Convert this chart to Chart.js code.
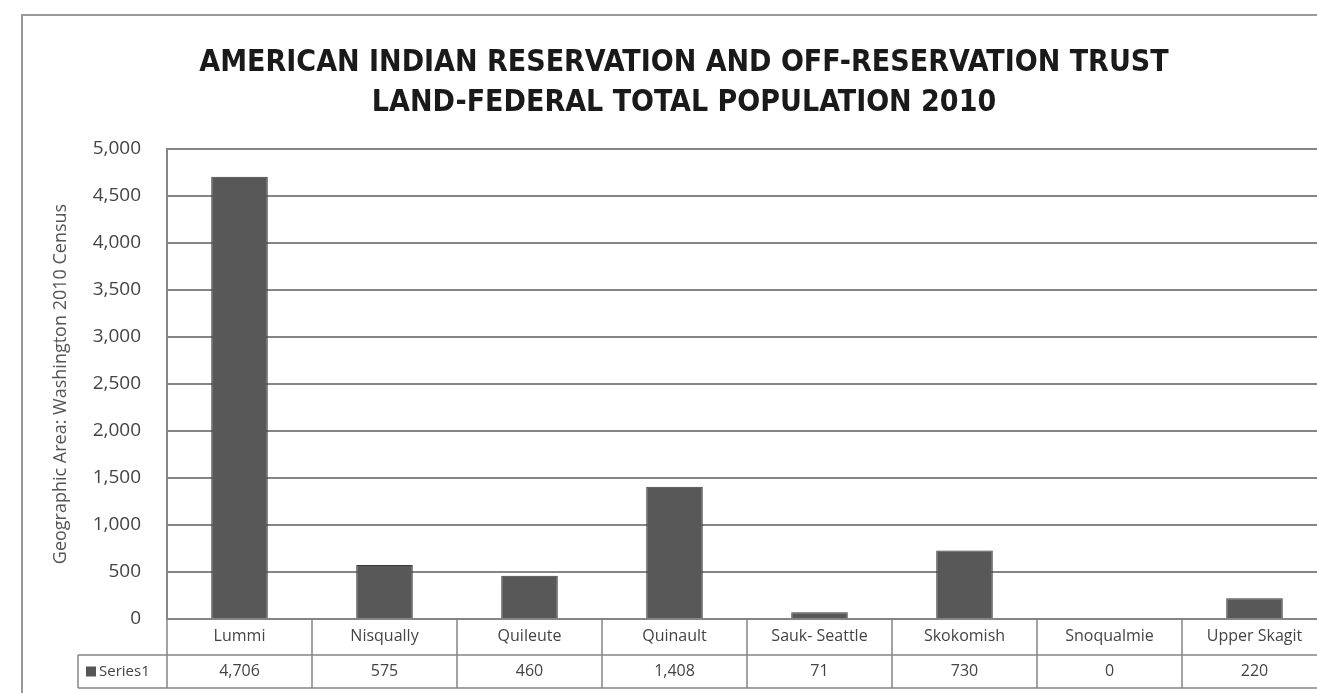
<!DOCTYPE html>
<html>
<head>
<meta charset="utf-8">
<script src="https://cdn.jsdelivr.net/npm/chart.js@4.4.1/dist/chart.umd.min.js"></script>
<style>
  html, body { margin: 0; padding: 0; background: #fff; overflow: hidden; }
  #wrap { position: absolute; left: 0; top: 0; width: 1345px; height: 693px; }
</style>
</head>
<body>
<div id="wrap"><canvas id="popChart" width="1345" height="693"></canvas></div>
<script>
// reservations and their 2010 population
const reservations = ["Lummi", "Nisqually", "Quileute", "Quinault", "Sauk- Seattle", "Skokomish", "Snoqualmie", "Upper Skagit"];
const population = [4706, 575, 460, 1408, 71, 730, 0, 220];
const seriesName = "Series1";
const yTicks = [0, 500, 1000, 1500, 2000, 2500, 3000, 3500, 4000, 4500, 5000];
const titleLines = ["AMERICAN INDIAN RESERVATION AND OFF-RESERVATION TRUST", "LAND-FEDERAL TOTAL POPULATION 2010"];

const textFont = "'Open Sans', 'Noto Sans', sans-serif";
const lineColor = "#858585";

// outer frame, title (centred on the full, cropped chart) and data table
const tablePlugin = {
  id: "dataTable",
  beforeDraw(chart) {
    const ctx = chart.ctx;
    ctx.save();
    ctx.strokeStyle = "#999";
    ctx.lineWidth = 2;
    ctx.strokeRect(22, 15, chart.width + 40, chart.height + 40);

    ctx.fillStyle = "#1a1a1a";
    ctx.font = "bold 30px 'DejaVu Sans Condensed', 'DejaVu Sans', sans-serif";
    ctx.textAlign = "center";
    ctx.textBaseline = "middle";
    titleLines.forEach((t, i) => ctx.fillText(t, 684, 63 + i * 40));
    ctx.restore();
  },
  afterDraw(chart) {
    const ctx = chart.ctx;
    const x = chart.scales.x;
    const area = chart.chartArea;
    const row1 = area.bottom;
    const row2 = row1 + 36;
    const row3 = row2 + 33;
    const legendLeft = 78;
    const half = (x.getPixelForValue(1) - x.getPixelForValue(0)) / 2;

    ctx.save();
    ctx.strokeStyle = lineColor;
    ctx.lineWidth = 1.5;
    ctx.beginPath();
    // horizontal lines
    ctx.moveTo(area.left, row1); ctx.lineTo(chart.width, row1);
    ctx.moveTo(legendLeft, row2); ctx.lineTo(chart.width, row2);
    ctx.moveTo(legendLeft, row3); ctx.lineTo(chart.width, row3);
    // verticals
    ctx.moveTo(legendLeft, row2); ctx.lineTo(legendLeft, row3);
    reservations.forEach((r, i) => {
      const cx = x.getPixelForValue(i);
      ctx.moveTo(cx - half, row1); ctx.lineTo(cx - half, row3);
      ctx.moveTo(cx + half, row1); ctx.lineTo(cx + half, row3);
    });
    ctx.stroke();

    // values row
    ctx.fillStyle = "#444";
    ctx.font = "16px " + textFont;
    ctx.textAlign = "center";
    ctx.textBaseline = "middle";
    population.forEach((v, i) => {
      ctx.fillText(v.toLocaleString("en-US"), x.getPixelForValue(i), (row2 + row3) / 2);
    });

    // legend key cell
    ctx.fillStyle = "#555";
    ctx.fillRect(legendLeft + 8, (row2 + row3) / 2 - 5, 10, 10);
    ctx.fillStyle = "#444";
    ctx.font = "15px " + textFont;
    ctx.textAlign = "left";
    ctx.fillText(seriesName, legendLeft + 21, (row2 + row3) / 2);
    ctx.restore();
  }
};

new Chart(document.getElementById("popChart"), {
  type: "bar",
  data: {
    labels: reservations,
    datasets: [{
      label: seriesName,
      data: population,
      backgroundColor: "#585858",
      borderColor: "#3a3a3a",
      borderWidth: 1,
      barPercentage: 0.39,
      categoryPercentage: 1
    }]
  },
  options: {
    responsive: false,
    animation: false,
    devicePixelRatio: 1,
    layout: { padding: { left: 0, right: 18, top: 149, bottom: 5 } },
    plugins: {
      legend: { display: false },
      tooltip: { enabled: false },
      title: { display: false }
    },
    scales: {
      x: {
        grid: { drawOnChartArea: false, drawTicks: false, display: false },
        border: { display: false },
        ticks: { color: "#444", font: { family: textFont, size: 16 }, padding: 8, maxRotation: 0, autoSkip: false },
        afterFit(scale) { scale.height = 69; }
      },
      y: {
        min: 0,
        max: 5000,
        afterBuildTicks(scale) { scale.ticks = yTicks.map(v => ({ value: v })); },
        grid: { color: lineColor, lineWidth: 2, drawTicks: false },
        border: { display: true, color: lineColor, width: 2 },
        ticks: {
          color: "#444",
          font: { family: textFont, size: 19 },
          padding: 26,
          callback: v => v.toLocaleString("en-US")
        },
        title: {
          display: true,
          text: "Geographic Area: Washington 2010 Census",
          color: "#555",
          font: { family: textFont, size: 18 },
          padding: { top: 50, bottom: 0 }
        },
        afterFit(scale) { scale.width = 167; }
      }
    }
  },
  plugins: [tablePlugin]
});
</script>
</body>
</html>
